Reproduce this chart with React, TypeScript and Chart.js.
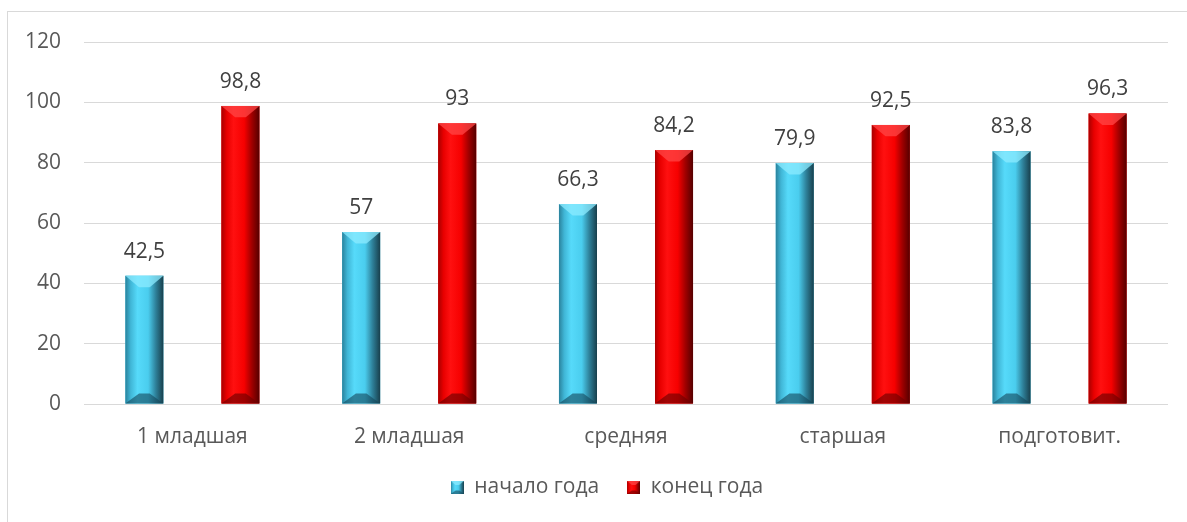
import React, { useEffect, useRef } from 'react';
import { Chart, registerables } from 'chart.js';

Chart.register(...registerables);

const categories = ['1 младшая', '2 младшая', 'средняя', 'старшая', 'подготовит.'];
const startOfYear = [42.5, 57, 66.3, 79.9, 83.8];
const endOfYear = [98.8, 93, 84.2, 92.5, 96.3];
const seriesLabels = ['начало года', 'конец года'];
const yMin = 0;
const yMax = 120;
const yStep = 20;

const FONT_FAMILY = "'Open Sans', 'DejaVu Sans', sans-serif";
const FONT_SIZE = 21;

type Palette = { base: string; stops: [number, string][]; top: string; bottom: string };

const palettes: Palette[] = [
  {
    base: '#4DD0F0',
    stops: [
      [0, '#2A829C'],
      [0.14, '#40B6D6'],
      [0.32, '#56DAFA'],
      [0.6, '#4ACDEE'],
      [0.8, '#2E8099'],
      [1, '#183F4C'],
    ],
    top: 'rgba(140,235,255,0.75)',
    bottom: 'rgba(20,70,90,0.6)',
  },
  {
    base: '#FF0000',
    stops: [
      [0, '#A80000'],
      [0.14, '#E80000'],
      [0.32, '#FF1010'],
      [0.6, '#F60000'],
      [0.8, '#A00000'],
      [1, '#550000'],
    ],
    top: 'rgba(255,70,70,0.75)',
    bottom: 'rgba(110,0,0,0.65)',
  },
];

function paintBevel(ctx: CanvasRenderingContext2D, left: number, top: number, w: number, h: number, pal: Palette) {
  if (w <= 0 || h <= 0) return;
  ctx.save();
  const g = ctx.createLinearGradient(left, 0, left + w, 0);
  pal.stops.forEach(([o, c]) => g.addColorStop(o, c));
  ctx.fillStyle = g;
  ctx.fillRect(left, top, w, h);
  const b = Math.min(w * 0.36, h / 2);
  const d = Math.min(w * 0.3, h / 2);
  ctx.fillStyle = pal.top;
  ctx.beginPath();
  ctx.moveTo(left, top);
  ctx.lineTo(left + w, top);
  ctx.lineTo(left + w - b, top + d);
  ctx.lineTo(left + b, top + d);
  ctx.closePath();
  ctx.fill();
  const db = Math.min(w * 0.26, h / 2);
  ctx.fillStyle = pal.bottom;
  ctx.beginPath();
  ctx.moveTo(left, top + h);
  ctx.lineTo(left + w, top + h);
  ctx.lineTo(left + w - b, top + h - db);
  ctx.lineTo(left + b, top + h - db);
  ctx.closePath();
  ctx.fill();
  ctx.restore();
}

function fmt(v: number) {
  return String(v).replace('.', ',');
}

const bevelPlugin = {
  id: 'bevelBars',
  afterLayout(chart: any) {
    // shift the legend row to the right like the reference
    if (chart.legend) {
      chart.legend.left += 46;
    }
  },
  afterDatasetsDraw(chart: any) {
    const ctx = chart.ctx as CanvasRenderingContext2D;
    chart.data.datasets.forEach((ds: any, di: number) => {
      const meta = chart.getDatasetMeta(di);
      meta.data.forEach((el: any, i: number) => {
        const { x, y, base, width } = el.getProps(['x', 'y', 'base', 'width'], true);
        const left = x - width / 2;
        const top = Math.min(y, base);
        const h = Math.abs(base - y);
        paintBevel(ctx, left, top, width, h, palettes[di]);
        ctx.save();
        ctx.font = `${FONT_SIZE}px ${FONT_FAMILY}`;
        ctx.fillStyle = '#404040';
        ctx.textAlign = 'center';
        ctx.textBaseline = 'alphabetic';
        ctx.fillText(fmt(ds.data[i]), x, top - 18);
        ctx.restore();
      });
    });
  },
};

export default function App() {
  const ref = useRef<HTMLCanvasElement>(null);

  useEffect(() => {
    if (!ref.current) return;
    const icons = palettes.map((p) => {
      const c = document.createElement('canvas');
      c.width = 13;
      c.height = 13;
      const cx = c.getContext('2d')!;
      paintBevel(cx, 0, 0, 13, 13, p);
      return c;
    });

    const chart = new Chart(ref.current, {
      type: 'bar',
      data: {
        labels: categories,
        datasets: [
          { label: seriesLabels[0], data: startOfYear, backgroundColor: palettes[0].base, borderWidth: 0 },
          { label: seriesLabels[1], data: endOfYear, backgroundColor: palettes[1].base, borderWidth: 0 },
        ],
      },
      options: {
        responsive: false,
        animation: false,
        events: [],
        datasets: { bar: { categoryPercentage: 0.886, barPercentage: 0.396 } },
        layout: { padding: { left: 0, right: 19, top: 42, bottom: 14 } },
        scales: {
          x: {
            grid: { display: false, drawTicks: false },
            border: { display: false },
            ticks: { font: { family: FONT_FAMILY, size: FONT_SIZE }, color: '#595959', padding: 20, maxRotation: 0 },
            afterFit: (s: any) => {
              s.height = 45;
            },
          },
          y: {
            min: yMin,
            max: yMax,
            ticks: { stepSize: yStep, font: { family: FONT_FAMILY, size: FONT_SIZE }, color: '#595959', padding: 23 },
            grid: { color: '#D9D9D9', lineWidth: 1, drawTicks: false },
            border: { display: false },
            afterFit: (s: any) => {
              s.width = 84;
            },
          },
        },
        plugins: {
          tooltip: { enabled: false },
          legend: {
            position: 'bottom',
            labels: {
              usePointStyle: true,
              pointStyleWidth: 13,
              padding: 28,
              color: '#595959',
              font: { family: FONT_FAMILY, size: FONT_SIZE },
              generateLabels: (ch: any) =>
                ch.data.datasets.map((ds: any, i: number) => ({
                  text: ds.label,
                  pointStyle: icons[i],
                  fillStyle: palettes[i].base,
                  strokeStyle: 'transparent',
                  lineWidth: 0,
                  hidden: false,
                  datasetIndex: i,
                  fontColor: '#595959',
                })),
            },
          },
        },
      },
      plugins: [bevelPlugin],
    } as any);
    return () => chart.destroy();
  }, []);

  return (
    <div style={{ position: 'fixed', left: 0, top: 0, width: 1187, height: 522, background: '#fff', overflow: 'hidden' }}>
      <div
        style={{
          position: 'absolute',
          left: 7,
          top: 11,
          width: 1300,
          height: 700,
          border: '1px solid #D9D9D9',
          boxSizing: 'border-box',
        }}
      />
      <canvas ref={ref} width={1187} height={522} style={{ position: 'absolute', left: 0, top: 0, width: 1187, height: 522 }} />
    </div>
  );
}
